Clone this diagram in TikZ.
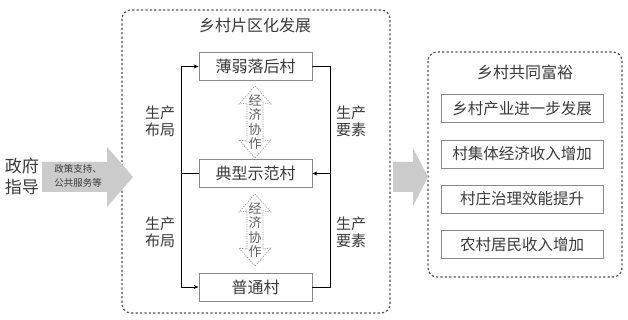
\documentclass[tikz,border=0pt]{standalone}
\usepackage{fontspec}
\setmainfont{Noto Sans CJK SC}
\usetikzlibrary{arrows.meta}
\definecolor{txt}{HTML}{3A3A3A}
\definecolor{boxline}{HTML}{8A8A8A}
\definecolor{dashline}{HTML}{555555}
\definecolor{bigarrow}{HTML}{CBCBCB}
\tikzset{
  panel/.style={draw=dashline, line width=1.2pt, dash pattern=on 2.2pt off 2.2pt, rounded corners=9pt},
  villagebox/.style={draw=boxline, line width=0.8pt, minimum width=113pt, minimum height=28pt, inner sep=0pt, font=\fontsize{16}{17}\selectfont, text=txt},
  resultbox/.style={draw=boxline, line width=0.8pt, minimum width=162pt, minimum height=28pt, inner sep=0pt, font=\fontsize{15.5}{16}\selectfont, text=txt},
  titletext/.style={font=\fontsize{16}{17}\selectfont, text=txt},
  sidelabel/.style={font=\fontsize{15}{17}\selectfont, text=txt, align=center},
  link/.style={draw=black, line width=0.9pt},
  coop/.style={draw=gray!80, line width=0.7pt, dash pattern=on 1.2pt off 1.2pt},
  cooptext/.style={font=\fontsize{13}{14.5}\selectfont, text=txt!80, align=center},
}
\begin{document}
\begin{tikzpicture}[x=1pt,y=-1pt]
\useasboundingbox (0,0) rectangle (628,320);
\fill[white] (0,0) rectangle (628,320);

% panels
\draw[panel] (122,10) rectangle (390,313);
\draw[panel] (428,52) rectangle (622,277);

\node[titletext] (t1) at (255,25) {乡村片区化发展};
\node[titletext] (t2) at (525,72) {乡村共同富裕};

% big arrows
\fill[bigarrow] (42,162) -- (107,162) -- (107,147) -- (133,177) -- (107,207) -- (107,192) -- (42,192) -- cycle;
\fill[bigarrow] (393,162) -- (413,162) -- (413,148) -- (428,177) -- (413,206) -- (413,192) -- (393,192) -- cycle;

\node[sidelabel, font=\fontsize{17}{21}\selectfont] (gov) at (22,176) {政府\\指导};
\node[sidelabel, font=\fontsize{9.5}{14}\selectfont] (pol) at (78,176) {政策支持、\\公共服务等};

% village boxes
\node[villagebox] (weak) at (255.5,66.5) {薄弱落后村};
\node[villagebox] (mid) at (255.5,173.5) {典型示范村};
\node[villagebox] (common) at (255.5,287) {普通村};

\coordinate (Lx) at (181,0);
\coordinate (Rx) at (330,0);

\draw[link, -{Stealth[length=5pt,width=4pt]}] (mid.west) -- (mid.west -| Lx) |- (weak.west);
\draw[link, -{Stealth[length=5pt,width=4pt]}] (mid.west -| Lx) |- (common.west);
\draw[link, -{Stealth[length=5pt,width=4pt]}] (weak.east) -| (Rx |- mid.east) -- (mid.east);
\draw[link] (common.east) -| (Rx |- mid.east);

\node[sidelabel] (l1) at (160,121) {生产\\布局};
\node[sidelabel] (l2) at (160,232) {生产\\布局};
\node[sidelabel] (r1) at (351,121) {生产\\要素};
\node[sidelabel] (r2) at (351,232) {生产\\要素};

% cooperation double arrows
\foreach \cy/\nm in {122/c1, 230/c2}{
  \draw[coop] (255,\cy-36) -- (271,\cy-18) -- (263,\cy-19) -- (263,\cy+19) -- (271,\cy+18) -- (255,\cy+36)
     -- (239,\cy+18) -- (247,\cy+19) -- (247,\cy-19) -- (239,\cy-18) -- cycle;
  \node[cooptext] (\nm) at (255,\cy) {经\\济\\协\\作};
}

% result boxes
\node[resultbox] (r1b) at (522,108.5) {乡村产业进一步发展};
\node[resultbox] (r2b) at (522,154) {村集体经济收入增加};
\node[resultbox] (r3b) at (522,199) {村庄治理效能提升};
\node[resultbox] (r4b) at (522,244.5) {农村居民收入增加};
\end{tikzpicture}
\end{document}
